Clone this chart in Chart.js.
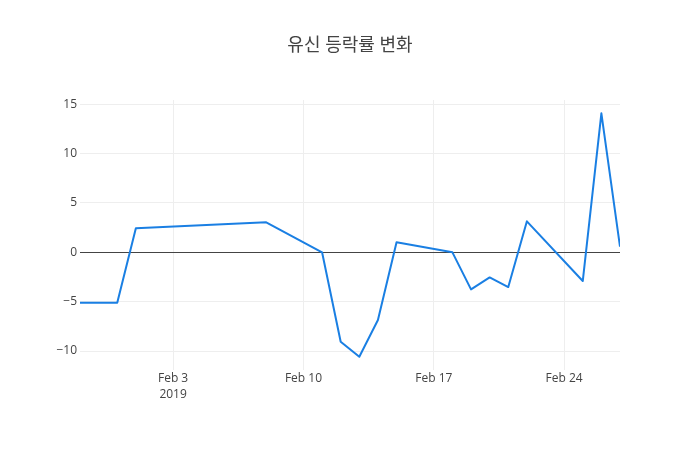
<!DOCTYPE html>
<html lang="ko">
<head>
    <meta charset="UTF-8">
    <title>유신 등락률 변화</title>
    <script src="https://cdn.jsdelivr.net/npm/chart.js"></script>
    <style>
        body {
            margin: 0;
            background: #fff;
        }
    </style>
</head>
<body>

    <canvas id="rateChart" width="700" height="450"></canvas>

    <script>
        // trading days and daily change (%)
        const dates = [
            "2019-01-29", "2019-01-31", "2019-02-01", "2019-02-08", "2019-02-11",
            "2019-02-12", "2019-02-13", "2019-02-14", "2019-02-15", "2019-02-18",
            "2019-02-19", "2019-02-20", "2019-02-21", "2019-02-22", "2019-02-25",
            "2019-02-26", "2019-02-27"
        ];
        const rates = [
            -5.1, -5.1, 2.43, 3.04, 0,
            -9.06, -10.58, -6.86, 1.01, 0,
            -3.75, -2.54, -3.52, 3.14, -2.91,
            14.08, 0.57
        ];
        const xTickDates = ["2019-02-03", "2019-02-10", "2019-02-17", "2019-02-24"];
        const xTickLabels = [["Feb 3", "2019"], "Feb 10", "Feb 17", "Feb 24"];
        const yTicks = [-10, -5, 0, 5, 10, 15];

        const DAY = 86400000;
        const base = Date.parse("2019-02-03");
        const toDay = d => Math.round((Date.parse(d) - base) / DAY); // days from Feb 3

        const points = dates.map((d, i) => ({ x: toDay(d), y: rates[i] }));
        const xTickValues = xTickDates.map(toDay);

        const tickFont = { family: "'Open Sans', sans-serif", size: 12 };

        new Chart(document.getElementById("rateChart"), {
            type: "line",
            data: {
                datasets: [{
                    data: points,
                    borderColor: "#1a7fe3",
                    borderWidth: 2,
                    borderJoinStyle: "round",
                    pointRadius: 0,
                    pointHoverRadius: 0,
                    tension: 0,
                    fill: false
                }]
            },
            options: {
                responsive: false,
                animation: false,
                devicePixelRatio: 1,
                plugins: {
                    legend: { display: false },
                    tooltip: { enabled: false },
                    title: {
                        display: true,
                        text: "유신 등락률 변화",
                        color: "#444",
                        font: { family: "'Open Sans', 'Noto Sans CJK KR', sans-serif", size: 18, weight: "normal", lineHeight: 1.2 },
                        padding: { top: 35, bottom: 43.4 }
                    }
                },
                scales: {
                    x: {
                        type: "linear",
                        min: toDay(dates[0]),
                        max: toDay(dates[dates.length - 1]),
                        afterBuildTicks: axis => { axis.ticks = xTickValues.map(v => ({ value: v })); },
                        afterFit: axis => { axis.height = 80; },
                        grid: { color: "#eee", lineWidth: 1, drawTicks: false },
                        border: { display: false },
                        ticks: {
                            color: "#444",
                            font: { ...tickFont, lineHeight: 1.33 },
                            padding: 1,
                            maxRotation: 0,
                            autoSkip: false,
                            callback: v => xTickLabels[xTickValues.indexOf(v)]
                        }
                    },
                    y: {
                        min: -11.92,
                        max: 15.43,
                        afterBuildTicks: axis => { axis.ticks = yTicks.map(v => ({ value: v })); },
                        afterFit: axis => { axis.width = 80; },
                        grid: {
                            color: ctx => ctx.tick && ctx.tick.value === 0 ? "#444" : "#eee",
                            lineWidth: 1,
                            drawTicks: false
                        },
                        border: { display: false },
                        ticks: {
                            color: "#444",
                            font: tickFont,
                            padding: 3,
                            callback: v => v < 0 ? "\u2212" + Math.abs(v) : String(v)
                        }
                    },
                    // empty right margin so the title stays centred on the page
                    yRight: {
                        position: "right",
                        afterFit: axis => { axis.width = 80; },
                        grid: { display: false },
                        border: { display: false },
                        ticks: { display: false }
                    }
                }
            }
        });
    </script>

</body>
</html>
